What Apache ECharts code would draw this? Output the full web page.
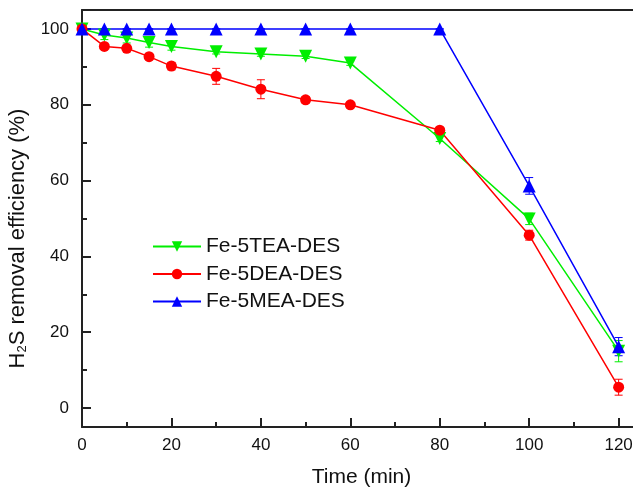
<!DOCTYPE html>
<html>
<head>
<meta charset="utf-8">
<script src="https://cdn.jsdelivr.net/npm/echarts@6/dist/echarts.min.js"></script>
<style>
  html, body { margin: 0; padding: 0; background: #fff; }
  #chart { width: 633px; height: 488px; }
</style>
</head>
<body>
<div id="chart"></div>
<script>
// Sampling times (min)
const times = [0, 5, 10, 15, 20, 30, 40, 50, 60, 80, 100, 120];

// H2S removal efficiency (%) and standard deviations for each absorbent
const teaValues = [100, 98.4, 97.6, 96.4, 95.4, 94.0, 93.4, 92.8, 91.0, 71.1, 49.9, 15.0];
const teaErrors = [0.3, 1.2, 1.3, 1.2, 1.0, 0.6, 0.6, 0.6, 0.6, 0.8, 1.5, 2.8];
const deaValues = [100, 95.4, 94.9, 92.7, 90.2, 87.5, 84.1, 81.3, 80.0, 73.3, 45.6, 5.5];
const deaErrors = [0.3, 0.6, 0.6, 0.6, 1.0, 2.1, 2.5, 0.8, 0.5, 0.7, 1.3, 2.1];
const meaValues = [100, 100, 100, 100, 100, 100, 100, 100, 100, 100, 58.6, 16.2];
const meaErrors = [0, 0, 0, 0, 0, 0, 0, 0, 0, 0, 2.2, 2.4];

const seriesNames = ['Fe-5TEA-DES', 'Fe-5DEA-DES', 'Fe-5MEA-DES'];
const xTickValues = [0, 20, 40, 60, 80, 100, 120];
const xMinorTickValues = [10, 30, 50, 70, 90, 110];
const yTickValues = [0, 20, 40, 60, 80, 100];
const yMinorTickValues = [10, 30, 50, 70, 90];

const FONT = 'Liberation Sans, Arial, sans-serif';
const AXIS_COLOR = '#222';
const X_RANGE = { min: 0, max: 125 };
const Y_RANGE = { min: -5, max: 105 };

function pairs(vals) { return times.map((t, i) => [t, vals[i]]); }
function errRows(vals, errs) { return times.map((t, i) => [t, vals[i] - errs[i], vals[i] + errs[i]]); }

// Vertical error bars with short caps, drawn in data coordinates
function errorBars(id, color, vals, errs) {
  return {
    id: id,
    type: 'custom',
    data: errRows(vals, errs),
    z: 3,
    silent: true,
    renderItem: function (params, api) {
      const x = api.value(0);
      const lo = api.coord([x, api.value(1)]);
      const hi = api.coord([x, api.value(2)]);
      const cap = 4;
      const style = { stroke: color, lineWidth: 1 };
      return {
        type: 'group',
        children: [
          { type: 'line', shape: { x1: lo[0], y1: lo[1], x2: hi[0], y2: hi[1] }, style: style },
          { type: 'line', shape: { x1: lo[0] - cap, y1: lo[1], x2: lo[0] + cap, y2: lo[1] }, style: style },
          { type: 'line', shape: { x1: hi[0] - cap, y1: hi[1], x2: hi[0] + cap, y2: hi[1] }, style: style }
        ]
      };
    }
  };
}

function lineSeries(name, color, vals, symbol, size, rotate) {
  return {
    name: name,
    type: 'line',
    data: pairs(vals),
    symbol: symbol,
    symbolSize: size,
    symbolRotate: rotate,
    showAllSymbol: true,
    lineStyle: { color: color, width: 1.5 },
    itemStyle: { color: color },
    z: 4
  };
}

// Axis carrying only short inner ticks at the given values
function minorTickAxis(range, values, position) {
  return Object.assign({
    type: 'value',
    position: position,
    offset: 0,
    axisLine: { show: false, onZero: false },
    axisTick: { show: true, inside: true, length: 5, customValues: values, lineStyle: { color: AXIS_COLOR, width: 2 } },
    axisLabel: { show: false },
    splitLine: { show: false }
  }, range);
}

const chart = echarts.init(document.getElementById('chart'), null, { renderer: 'canvas' });

chart.setOption({
  animation: false,
  backgroundColor: '#fff',
  textStyle: { fontFamily: FONT },
  grid: {
    left: 82, top: 10, width: 559, height: 417,
    outerBoundsMode: 'none',
    containLabel: false,
    show: false
  },
  legend: {
    orient: 'vertical',
    left: 152,
    top: 236,
    padding: 0,
    itemWidth: 48,
    itemHeight: 13,
    itemGap: 6.5,
    data: seriesNames,
    textStyle: { fontFamily: FONT, fontSize: 21, color: '#111', lineHeight: 21 }
  },
  xAxis: [
    Object.assign({
      type: 'value',
      position: 'bottom',
      name: 'Time (min)',
      nameLocation: 'middle',
      nameGap: 40,
      nameTextStyle: { fontFamily: FONT, fontSize: 21, color: '#111' },
      axisLine: { show: true, onZero: false, lineStyle: { color: AXIS_COLOR, width: 2 } },
      axisTick: { show: true, inside: true, length: 9, customValues: xTickValues, lineStyle: { color: AXIS_COLOR, width: 2 } },
      axisLabel: { fontFamily: FONT, fontSize: 17, color: '#111', margin: 10, customValues: xTickValues },
      splitLine: { show: false }
    }, X_RANGE),
    minorTickAxis(X_RANGE, xMinorTickValues, 'bottom'),
    Object.assign({
      // top frame line
      type: 'value',
      position: 'top',
      axisLine: { show: true, onZero: false, lineStyle: { color: AXIS_COLOR, width: 2 } },
      axisTick: { show: false },
      axisLabel: { show: false },
      splitLine: { show: false }
    }, X_RANGE)
  ],
  yAxis: [
    Object.assign({
      type: 'value',
      position: 'left',
      name: '{a|H}{s|2}{a|S removal efficiency (%)}',
      nameLocation: 'middle',
      nameGap: 44,
      nameTextStyle: {
        padding: [0, 40, 0, 0],
        rich: {
          a: { fontFamily: FONT, fontSize: 22, color: '#111', padding: [0, 0, 9, 0] },
          s: { fontFamily: FONT, fontSize: 13, color: '#111' }
        }
      },
      axisLine: { show: true, onZero: false, lineStyle: { color: AXIS_COLOR, width: 2 } },
      axisTick: { show: true, inside: true, length: 9, customValues: yTickValues, lineStyle: { color: AXIS_COLOR, width: 2 } },
      axisLabel: { fontFamily: FONT, fontSize: 17, color: '#111', margin: 13, customValues: yTickValues },
      splitLine: { show: false }
    }, Y_RANGE),
    minorTickAxis(Y_RANGE, yMinorTickValues, 'left')
  ],
  series: [
    errorBars('tea-err', '#00ee00', teaValues, teaErrors),
    errorBars('dea-err', '#ff0000', deaValues, deaErrors),
    errorBars('mea-err', '#0000ff', meaValues, meaErrors),
    lineSeries(seriesNames[0], '#00ee00', teaValues, 'triangle', 13, 180),
    lineSeries(seriesNames[1], '#ff0000', deaValues, 'circle', 11, 0),
    lineSeries(seriesNames[2], '#0000ff', meaValues, 'triangle', 13, 0)
  ]
});
</script>
</body>
</html>
